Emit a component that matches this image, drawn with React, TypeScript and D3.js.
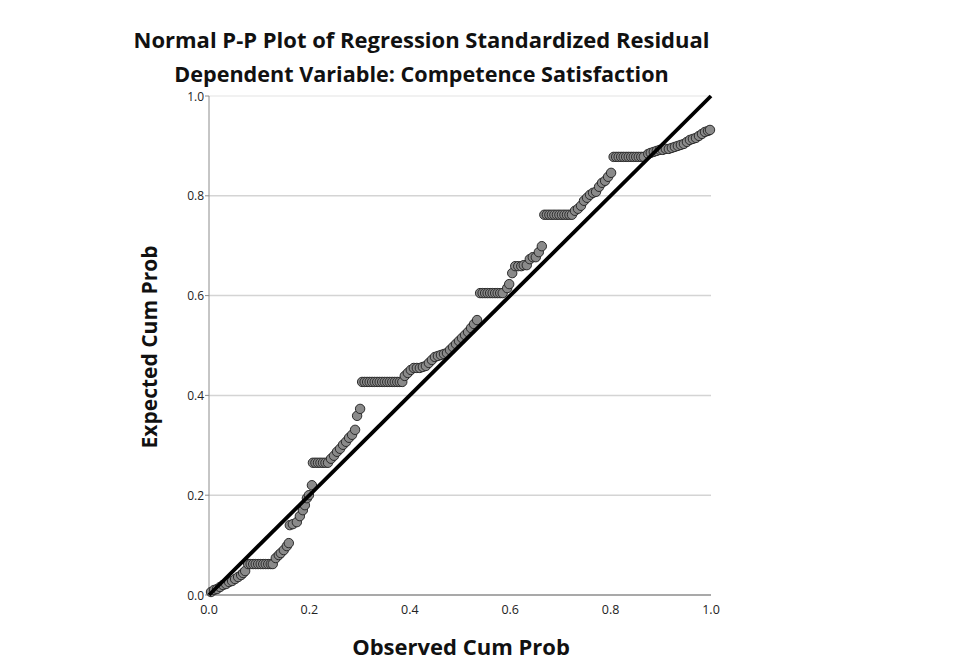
import React from "react";
import * as d3 from "d3";

const title1 = "Normal P-P Plot of Regression Standardized Residual";
const title2 = "Dependent Variable: Competence Satisfaction";
const xTitle = "Observed Cum Prob";
const yTitle = "Expected Cum Prob";
const tickValues = [0, 0.2, 0.4, 0.6, 0.8, 1.0];
const gridValues = [0.2, 0.4, 0.6, 0.8, 1.0];

// observed cumulative probability (x) and expected cumulative probability (y)
const observed = [
  0.004, 0.010, 0.016, 0.022, 0.028, 0.034, 0.040, 0.046, 0.052, 0.058, 0.064, 0.068, 0.072,
  0.078, 0.083, 0.088, 0.093, 0.098, 0.103, 0.108, 0.113, 0.118, 0.123, 0.127,
  0.133, 0.139, 0.143, 0.149, 0.155, 0.159,
  0.161, 0.167, 0.175, 0.181, 0.187, 0.191, 0.195, 0.199, 0.205,
  0.207, 0.212, 0.217, 0.222, 0.227, 0.232, 0.237,
  0.243, 0.249, 0.255, 0.261, 0.267, 0.273, 0.279, 0.285, 0.291, 0.295, 0.301,
  0.305, 0.310, 0.315, 0.320, 0.325, 0.330, 0.335, 0.340, 0.345, 0.350, 0.355, 0.360, 0.365, 0.370, 0.375, 0.380, 0.385,
  0.390, 0.396, 0.402, 0.408, 0.414, 0.420, 0.426, 0.432, 0.438, 0.444, 0.450, 0.456, 0.462, 0.468, 0.474, 0.480, 0.486, 0.492, 0.498, 0.504, 0.510, 0.516, 0.522, 0.528, 0.534,
  0.540, 0.545, 0.550, 0.555, 0.560, 0.565, 0.570, 0.575, 0.580, 0.585,
  0.594, 0.598, 0.604, 0.610, 0.616, 0.622, 0.627, 0.633, 0.639, 0.645, 0.651, 0.657, 0.663,
  0.668, 0.673, 0.678, 0.683, 0.688, 0.693, 0.698, 0.703, 0.708, 0.713, 0.718, 0.723,
  0.729, 0.735, 0.741, 0.747, 0.753, 0.759, 0.765, 0.771, 0.777, 0.783, 0.789, 0.795, 0.801,
  0.806, 0.811, 0.816, 0.821, 0.826, 0.831, 0.836, 0.841, 0.846, 0.851, 0.856, 0.861, 0.866,
  0.875, 0.880, 0.886, 0.892, 0.898, 0.904, 0.910, 0.916, 0.922, 0.928, 0.934, 0.940, 0.946, 0.952, 0.958, 0.964, 0.970, 0.976, 0.982, 0.988, 0.994, 0.998,
];
const expected = [
  0.006, 0.010, 0.012, 0.016, 0.020, 0.022, 0.026, 0.028, 0.032, 0.036, 0.040, 0.044, 0.048,
  0.062, 0.062, 0.062, 0.062, 0.062, 0.062, 0.062, 0.062, 0.062, 0.062, 0.062,
  0.074, 0.080, 0.084, 0.090, 0.098, 0.104,
  0.140, 0.142, 0.146, 0.158, 0.170, 0.180, 0.194, 0.200, 0.220,
  0.265, 0.265, 0.265, 0.265, 0.265, 0.265, 0.265,
  0.273, 0.279, 0.287, 0.293, 0.301, 0.307, 0.315, 0.321, 0.331, 0.359, 0.373,
  0.427, 0.427, 0.427, 0.427, 0.427, 0.427, 0.427, 0.427, 0.427, 0.427, 0.427, 0.427, 0.427, 0.427, 0.427, 0.427, 0.427,
  0.439, 0.445, 0.451, 0.455, 0.455, 0.455, 0.457, 0.459, 0.465, 0.471, 0.477, 0.479, 0.481, 0.483, 0.485, 0.491, 0.497, 0.503, 0.509, 0.515, 0.521, 0.527, 0.535, 0.543, 0.551,
  0.605, 0.605, 0.605, 0.605, 0.605, 0.605, 0.605, 0.605, 0.605, 0.605,
  0.615, 0.623, 0.645, 0.659, 0.659, 0.659, 0.661, 0.661, 0.673, 0.677, 0.677, 0.687, 0.699,
  0.762, 0.762, 0.762, 0.762, 0.762, 0.762, 0.762, 0.762, 0.762, 0.762, 0.762, 0.762,
  0.770, 0.774, 0.780, 0.790, 0.796, 0.802, 0.806, 0.808, 0.818, 0.826, 0.830, 0.838, 0.846,
  0.878, 0.878, 0.878, 0.878, 0.878, 0.878, 0.878, 0.878, 0.878, 0.878, 0.878, 0.878, 0.878,
  0.884, 0.886, 0.888, 0.890, 0.892, 0.892, 0.894, 0.894, 0.896, 0.898, 0.900, 0.902, 0.904, 0.908, 0.912, 0.914, 0.916, 0.920, 0.924, 0.928, 0.930, 0.932,
];

const W = 977;
const H = 669;
const left = 209;
const right = 711;
const top = 96;
const bottom = 595;
const font = "'Open Sans', 'DejaVu Sans', sans-serif";

export default function App() {
  const x = d3.scaleLinear().domain([0, 1]).range([left, right]);
  const y = d3.scaleLinear().domain([0, 1]).range([bottom, top]);
  const points = observed.map((o, i) => ({ o, e: expected[i] }));
  const fmt = d3.format(".1f");
  const diag = d3.line<number>().x((v) => x(v)).y((v) => y(v))([0, 1]) || "";

  return (
    <svg
      width={W}
      height={H}
      style={{ position: "absolute", left: 0, top: 0, background: "#fff" }}
    >
      <rect x={0} y={0} width={W} height={H} fill="#fff" />
      {gridValues.map((g) => (
        <line
          key={g}
          x1={x(0)}
          x2={x(1)}
          y1={y(g)}
          y2={y(g)}
          stroke={g === 1 ? "#ececec" : "#d4d4d4"}
          strokeWidth={1.5}
        />
      ))}
      <line x1={x(0)} x2={x(0)} y1={y(0)} y2={y(1)} stroke="#8c8c8c" strokeWidth={1} />
      <line x1={x(0)} x2={x(1)} y1={y(0)} y2={y(0)} stroke="#8c8c8c" strokeWidth={1.5} />
      {tickValues.map((t) => (
        <g key={"y" + t}>
          <line x1={x(0) - 4} x2={x(0)} y1={y(t)} y2={y(t)} stroke="#8c8c8c" />
          <text
            x={x(0) - 5}
            y={y(t) + 4.5}
            textAnchor="end"
            fontFamily={font}
            fontSize={12}
            fill="#222"
          >
            {fmt(t)}
          </text>
        </g>
      ))}
      {tickValues.map((t) => (
        <text
          key={"x" + t}
          x={x(t)}
          y={614}
          textAnchor="middle"
          fontFamily={font}
          fontSize={12.5}
          fill="#222"
        >
          {fmt(t)}
        </text>
      ))}
      {points.map((p, i) => (
        <circle
          key={i}
          cx={x(p.o)}
          cy={y(p.e)}
          r={4.7}
          fill="#8a8a8a"
          stroke="#2b2b2b"
          strokeWidth={1}
        />
      ))}
      <path d={diag} stroke="#000" strokeWidth={3.8} fill="none" />
      <text
        x={421.5}
        y={48}
        textAnchor="middle"
        fontFamily={font}
        fontWeight="bold"
        fontSize={22}
        fill="#111"
      >
        {title1}
      </text>
      <text
        x={421.5}
        y={82}
        textAnchor="middle"
        fontFamily={font}
        fontWeight="bold"
        fontSize={21.6}
        fill="#111"
      >
        {title2}
      </text>
      <text
        x={461}
        y={655}
        textAnchor="middle"
        fontFamily={font}
        fontWeight="bold"
        fontSize={22}
        fill="#111"
      >
        {xTitle}
      </text>
      <text
        transform={`translate(157, 347) rotate(-90)`}
        textAnchor="middle"
        fontFamily={font}
        fontWeight="bold"
        fontSize={21}
        fill="#111"
      >
        {yTitle}
      </text>
    </svg>
  );
}
